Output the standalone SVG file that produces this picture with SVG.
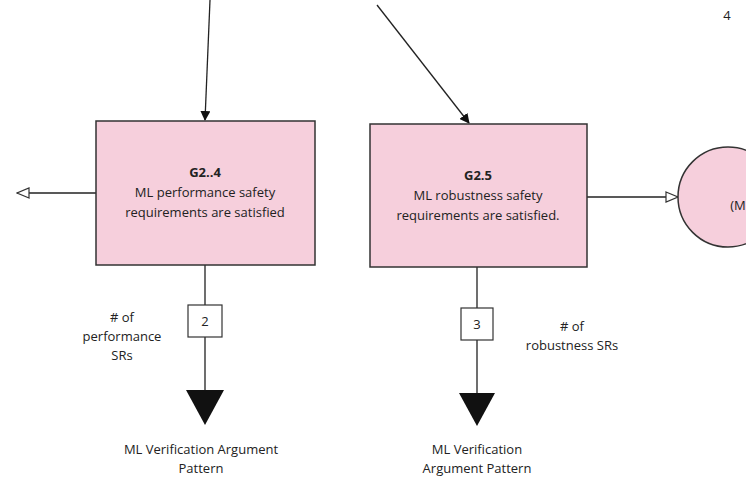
<svg xmlns="http://www.w3.org/2000/svg" width="746" height="483" viewBox="0 0 746 483">
<style>
text{font-family:"Open Sans","Noto Sans",sans-serif;fill:#222;font-size:13px;text-anchor:middle}
.g{fill:#f6cfdc;stroke:#333;stroke-width:1.5}
.c{fill:#fff;stroke:#333;stroke-width:1.2}
.l{stroke:#222;stroke-width:1.3;fill:none}
</style>
<defs>
<marker id="f" markerWidth="10" markerHeight="10" refX="9" refY="5" orient="auto" markerUnits="userSpaceOnUse"><path d="M0,0 L10,5 L0,10Z" fill="#111"/></marker>
<marker id="h" markerWidth="14" markerHeight="12" refX="13" refY="6" orient="auto" markerUnits="userSpaceOnUse"><path d="M1,1 L13,6 L1,11Z" fill="#fff" stroke="#333" stroke-width="1.2"/></marker>
</defs>
<rect width="746" height="483" fill="#fff"/>
<g id="connectors">
<path class="l" d="M210,0 L205,120" marker-end="url(#f)"/>
<path class="l" d="M377,5 L469,123" marker-end="url(#f)"/>
<path class="l" d="M96,193 L17,193" marker-end="url(#h)"/>
<path class="l" d="M587,197 L678,197" marker-end="url(#h)"/>
<path class="l" d="M205,265 V305 M205,337 V390"/>
<path class="l" d="M477,267 V308 M477,340 V393"/>
<path d="M186,390 L224,390 L205,425Z" fill="#111"/>
<path d="M459,393 L495,393 L477,426Z" fill="#111"/>
</g>
<g id="G24"><rect class="g" x="96" y="121" width="219" height="144"/>
<text x="205" y="177" font-weight="bold">G2..4</text>
<text x="205" y="197">ML performance safety</text>
<text x="205" y="217">requirements are satisfied</text></g>
<g id="G25"><rect class="g" x="370" y="124" width="217" height="143"/>
<text x="478" y="180" font-weight="bold">G2.5</text>
<text x="478" y="200">ML robustness safety</text>
<text x="478" y="220">requirements are satisfied.</text></g>
<g id="circle"><circle class="g" cx="728" cy="197" r="50"/><text x="738" y="210">(M</text></g>
<g id="n2"><rect class="c" x="188" y="305" width="34" height="32"/><text x="205" y="326">2</text></g>
<g id="n3"><rect class="c" x="461" y="308" width="32" height="32"/><text x="477" y="329">3</text></g>
<g id="lab1"><text x="122" y="322">#  of</text><text x="122" y="341">performance</text><text x="122" y="360">SRs</text></g>
<g id="lab2"><text x="572" y="331">#  of</text><text x="572" y="350">robustness SRs</text></g>
<g id="p1"><text x="201" y="454">ML Verification Argument</text><text x="201" y="473">Pattern</text></g>
<g id="p2"><text x="477" y="454">ML Verification</text><text x="477" y="473">Argument Pattern</text></g>
<text x="727" y="20" font-size="16" fill="#555">4</text>
</svg>
